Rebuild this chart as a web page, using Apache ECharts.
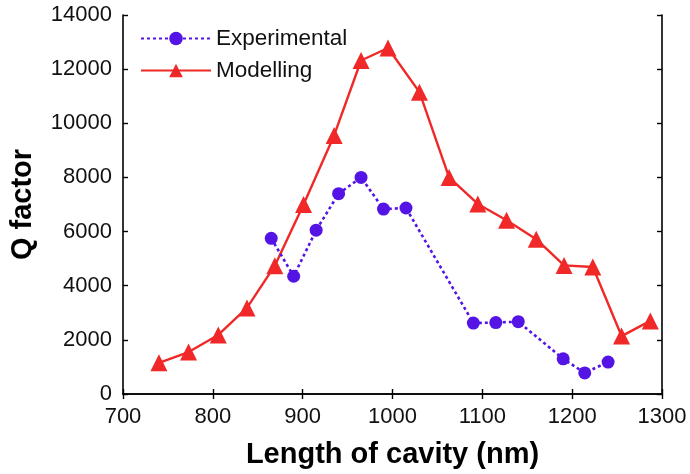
<!DOCTYPE html>
<html>
<head>
<meta charset="utf-8">
<script src="https://cdn.jsdelivr.net/npm/echarts@6/dist/echarts.min.js"></script>
<style>
  html, body { margin: 0; padding: 0; background: #fff; }
  #chart { width: 690px; height: 474px; }
</style>
</head>
<body>
<div id="chart"></div>
<script>
// Cavity length (nm) and Q factor for each series
const expLength = [865, 890, 915, 940, 965, 990, 1015, 1090, 1115, 1140, 1190, 1214, 1240];
const expQ      = [5750, 4350, 6050, 7400, 8000, 6830, 6870, 2620, 2640, 2670, 1300, 780, 1180];

const modLength = [740, 773, 806, 838, 869, 901, 935, 965, 995, 1030, 1063, 1095, 1127, 1160, 1191, 1223, 1255, 1287];
const modQ      = [1150, 1550, 2180, 3180, 4740, 7000, 9550, 12320, 12780, 11150, 8000, 7020, 6420, 5720, 4750, 4690, 2140, 2700];

const xTicks = { min: 700, max: 1300, interval: 100 };
const yTicks = { min: 0, max: 14000, interval: 2000 };

const FONT = '"Liberation Sans", Arial, sans-serif';
const BLUE = '#5414e6';
const RED = '#f02828';

const pairs = (xs, ys) => xs.map((x, i) => [x, ys[i]]);
const plain = v => String(v);

const frameAxis = {
  axisLine: { show: true, lineStyle: { color: '#000', width: 1.6 } },
  axisTick: { show: true, inside: true, length: 5, lineStyle: { color: '#000', width: 1.4 } },
  splitLine: { show: false }
};

const chart = echarts.init(document.getElementById('chart'), null, { renderer: 'canvas' });
chart.setOption({
  animation: false,
  backgroundColor: '#fff',
  grid: { left: 119, right: 28, top: 15, bottom: 78, containLabel: false },
  legend: {
    orient: 'vertical',
    left: 135,
    top: 22,
    itemWidth: 70,
    itemHeight: 17,
    itemGap: 9,
    itemStyle: { borderWidth: 0 },
    textStyle: { fontFamily: FONT, fontSize: 22.5, color: '#111' },
    data: ['Experimental', 'Modelling']
  },
  xAxis: [
    Object.assign({
      type: 'value', position: 'bottom',
      min: xTicks.min, max: xTicks.max, interval: xTicks.interval,
      name: 'Length of cavity (nm)', nameLocation: 'middle', nameGap: 46,
      nameTextStyle: { fontFamily: FONT, fontSize: 29, fontWeight: 'bold', color: '#000' },
      axisLabel: { fontFamily: FONT, fontSize: 22, color: '#111', margin: 12, formatter: plain }
    }, frameAxis),
    Object.assign({
      type: 'value', position: 'top',
      min: xTicks.min, max: xTicks.max, interval: xTicks.interval,
      axisLabel: { show: false }
    }, frameAxis)
  ],
  yAxis: [
    Object.assign({
      type: 'value', position: 'left',
      min: yTicks.min, max: yTicks.max, interval: yTicks.interval,
      name: 'Q factor', nameLocation: 'middle', nameGap: 86,
      nameTextStyle: { fontFamily: FONT, fontSize: 29, fontWeight: 'bold', color: '#000' },
      axisLabel: { fontFamily: FONT, fontSize: 22, color: '#111', margin: 11, formatter: plain }
    }, frameAxis),
    Object.assign({
      type: 'value', position: 'right',
      min: yTicks.min, max: yTicks.max, interval: yTicks.interval,
      axisLabel: { show: false }
    }, frameAxis)
  ],
  series: [
    {
      name: 'Experimental',
      type: 'line',
      data: pairs(expLength, expQ),
      symbol: 'circle',
      symbolSize: 13,
      itemStyle: { color: BLUE },
      lineStyle: { color: BLUE, width: 2.6, type: [3, 3] },
      z: 3
    },
    {
      name: 'Modelling',
      type: 'line',
      data: pairs(modLength, modQ),
      symbol: 'triangle',
      symbolSize: 17,
      itemStyle: { color: RED },
      lineStyle: { color: RED, width: 2.4, type: 'solid' },
      z: 2
    }
  ]
});
</script>
</body>
</html>
